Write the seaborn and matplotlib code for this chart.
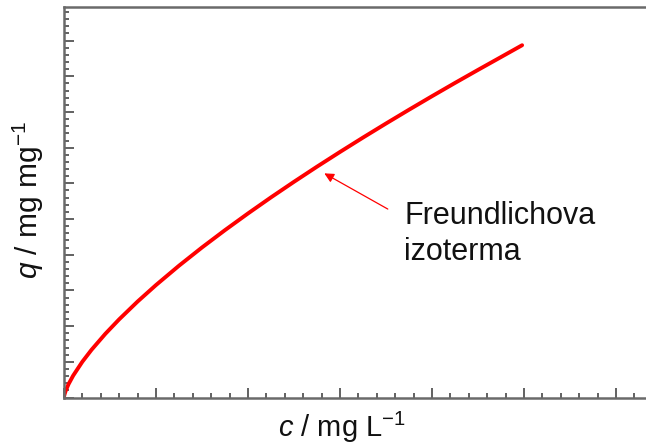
import matplotlib
matplotlib.use("Agg")
import matplotlib.pyplot as plt
import seaborn as sns
import pandas as pd
from matplotlib.ticker import MultipleLocator, NullFormatter

# Data (axis units: 1 major tick = 1 unit)
conc = [0.0, 0.001, 0.002, 0.005, 0.01, 0.02, 0.05, 0.1, 0.2, 0.3, 0.45, 0.6, 0.8,
        1.0, 1.25, 1.5, 1.75, 2.0, 2.25, 2.5, 2.75, 3.0, 3.25, 3.5, 3.75, 4.0,
        4.25, 4.5, 4.75, 4.98]
q_vals = [0.0, 0.023, 0.038, 0.073, 0.119, 0.195, 0.375, 0.613, 1.003, 1.338, 1.785,
          2.190, 2.688, 3.150, 3.692, 4.203, 4.689, 5.156, 5.607, 6.043, 6.467,
          6.879, 7.282, 7.676, 8.062, 8.441, 8.813, 9.178, 9.538, 9.870]
x_label = "$c$ / mg L$^{-1}$"
y_label = "$q$ / mg mg$^{-1}$"
note = "Freundlichova\nizoterma"

sns.set_style("white")
plt.rcParams["font.family"] = ["Liberation Sans", "DejaVu Sans"]
plt.rcParams["mathtext.fontset"] = "custom"
plt.rcParams["mathtext.rm"] = "Liberation Sans"
plt.rcParams["mathtext.it"] = "Liberation Sans:italic"

df = pd.DataFrame({"c": conc, "q": q_vals})

fig = plt.figure(figsize=(6.46, 4.45), dpi=100)
ax_w, ax_h = 0.9257, 0.8775
ax = fig.add_axes([0.099, 0.1067, ax_w, ax_h])
sns.lineplot(data=df, x="c", y="q", sort=False, color="#ff0000", linewidth=2.8, ax=ax)

ax.set_xlim(0, 6.5)
ax.set_ylim(0, 10.94)

spine_col = "#6a6a6a"
for side in ["left", "bottom", "top"]:
    ax.spines[side].set_visible(True)
    ax.spines[side].set_color(spine_col)
    ax.spines[side].set_linewidth(1.8)
ax.spines["right"].set_visible(False)

ax.xaxis.set_major_locator(MultipleLocator(1))
ax.xaxis.set_minor_locator(MultipleLocator(0.2))
ax.yaxis.set_major_locator(MultipleLocator(1))
ax.yaxis.set_minor_locator(MultipleLocator(0.2))
ax.xaxis.set_major_formatter(NullFormatter())
ax.yaxis.set_major_formatter(NullFormatter())
ax.tick_params(which="both", direction="in", color="#555555", bottom=True, left=True,
               top=False, right=False)
ax.tick_params(which="major", length=7, width=1.3)
ax.tick_params(which="minor", length=3.5, width=1.3)

ax.set_xlabel(x_label, fontsize=21, color="#111111")
ax.set_ylabel(y_label, fontsize=21.5, color="#111111")
ax.xaxis.set_label_coords((342 - 64) / (ax_w * 646), -(410 - 397.5) / (ax_h * 445))
ax.yaxis.set_label_coords(-(64 - 46) / (ax_w * 646), (397.5 - 200) / (ax_h * 445))

ax.annotate("", xy=(2.83, 6.28), xytext=(3.52, 5.28),
            arrowprops=dict(arrowstyle="-|>", color="#ff0000", lw=0.9,
                            mutation_scale=14, shrinkA=0, shrinkB=0))
ax.text(3.70, 5.50, note, fontsize=22, color="#111111", va="top", ha="left",
        linespacing=1.26)

fig.savefig("out.png", dpi=100)
